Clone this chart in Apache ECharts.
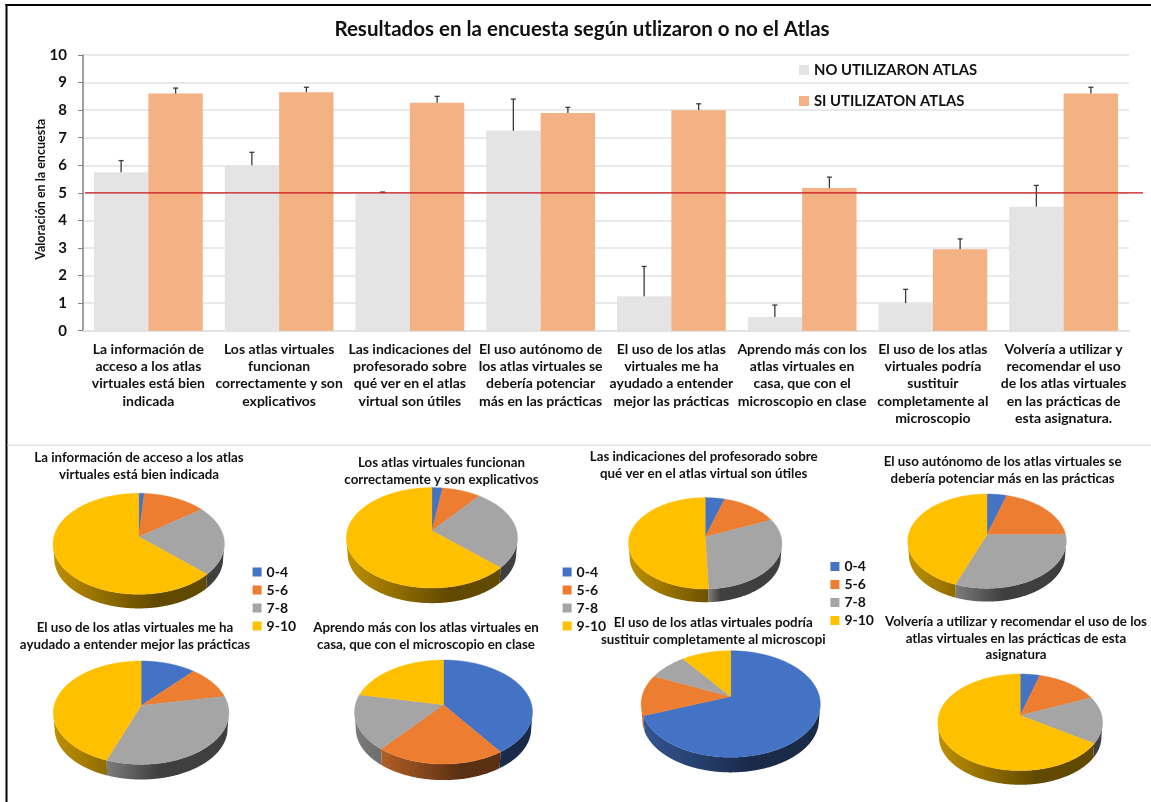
<!DOCTYPE html>
<html><head><meta charset="utf-8">
<style>html,body{margin:0;padding:0;background:#fff}#c{width:1151px;height:802px}</style>
<script src="https://cdn.jsdelivr.net/npm/echarts@6/dist/echarts.min.js"></script>
</head><body><div id="c"></div>
<script>
const categories = [
  'La información de\nacceso a los atlas\nvirtuales está bien\nindicada',
  'Los atlas virtuales\nfuncionan\ncorrectamente y son\nexplicativos',
  'Las indicaciones del\nprofesorado sobre\nqué ver en el atlas\nvirtual son útiles',
  'El uso autónomo de\nlos atlas virtuales se\ndebería potenciar\nmás en las prácticas',
  'El uso de los atlas\nvirtuales me ha\nayudado a entender\nmejor las prácticas',
  'Aprendo más con los\natlas virtuales en\ncasa, que con el\nmicroscopio en clase',
  'El uso de los atlas\nvirtuales podría\nsustituir\ncompletamente al\nmicroscopio',
  'Volvería a utilizar y\nrecomendar el uso\nde los atlas virtuales\nen las prácticas de\nesta asignatura.'
];
const noAtlas = [5.75, 6.0, 5.0, 7.25, 1.25, 0.5, 1.0, 4.5];
const siAtlas = [8.6, 8.65, 8.27, 7.9, 8.0, 5.18, 2.95, 8.6];
const noAtlasErrTop = [6.17, 6.47, 5.03, 8.4, 2.33, 0.93, 1.5, 5.27];
const siAtlasErrTop = [8.8, 8.83, 8.5, 8.1, 8.23, 5.57, 3.33, 8.83];
const referenceLine = [[0, 5]];
const pieRangeNames = ['0-4', '5-6', '7-8', '9-10'];
const pie04 = [1.2, 2.3, 4.7, 4.6, 11.6, 40.3, 69.3, 4.4];
const pie56 = [13.6, 8.3, 13.8, 20.4, 10.5, 20.6, 12.4, 14.1];
const pie78 = [22.2, 26.3, 30.9, 30.7, 33.5, 17.3, 8.1, 15.7];
const pie910 = [63.0, 63.1, 50.6, 44.3, 44.4, 21.8, 10.2, 65.8];

// layout of the eight tilted pies and their headings (not data)
const pieLayout = [
  {cx:138.7, cy:543.8, rx:85.7, ry:50.5, d:15},
  {cx:431.9, cy:537.8, rx:85.6, ry:50.2, d:16},
  {cx:705.2, cy:543.3, rx:76.7, ry:45.7, d:14},
  {cx:987.0, cy:541.2, rx:79.3, ry:47.2, d:14},
  {cx:141.1, cy:712.7, rx:87.8, ry:51.7, d:16},
  {cx:443.5, cy:712.0, rx:89.0, ry:52.0, d:17},
  {cx:730.7, cy:704.0, rx:89.6, ry:53.3, d:16},
  {cx:1020.2,cy:722.3, rx:82.4, ry:48.3, d:15}
];
const pieTitles = [
  {t:'La información de acceso a los atlas\nvirtuales está bien indicada', x:139, y:449.5},
  {t:'Los atlas virtuales funcionan\ncorrectamente y son explicativos', x:441.5, y:454.5},
  {t:'Las indicaciones del profesorado sobre\nqué ver en el atlas virtual son útiles', x:703.7, y:448.5},
  {t:'El uso autónomo de los atlas virtuales se\ndebería potenciar más en las prácticas', x:1002.6, y:453.5},
  {t:'El uso de los atlas virtuales me ha\nayudado a entender mejor las prácticas', x:135, y:619.5},
  {t:'Aprendo más con los atlas virtuales en\ncasa, que con el microscopio en clase', x:426, y:619.5},
  {t:'El uso de los atlas virtuales podría\nsustituir completamente al microscopi', x:713.3, y:614.5},
  {t:'Volvería a utilizar y recomendar el uso de los\natlas virtuales en las prácticas de esta\nasignatura', x:1016, y:613.5}
];
const FONT = 'Lato, "Open Sans", sans-serif';
const INK = '#111';
const PERSP = 0.14;
const pieColors = ['#4472c4', '#ed7d31', '#a5a5a5', '#ffc000'];
const pieArrays = [pie04, pie56, pie78, pie910];

function shade(hex, f) {
  const n = parseInt(hex.slice(1), 16);
  const c = s => Math.round(((n >> s) & 255) * f);
  return 'rgb(' + c(16) + ',' + c(8) + ',' + c(0) + ')';
}
function rimPoint(L, deg) {
  const t = deg * Math.PI / 180, u = Math.sin(t), v = -Math.cos(t), w = 1 - PERSP * v;
  const a = L.rx * Math.sqrt(1 - PERSP * PERSP), b = L.ry * (1 - PERSP * PERSP);
  return [L.cx + a * u / w, L.cy - PERSP * L.ry + b * v / w];
}
function pieRenderer(rangeIndex) {
  return function (params) {
    const i = params.dataIndex, L = pieLayout[i];
    let total = 0, before = 0;
    pieArrays.forEach((arr, k) => { total += arr[i]; if (k < rangeIndex) before += arr[i]; });
    const start = before / total * 360, end = (before + pieArrays[rangeIndex][i]) / total * 360;
    const rim = [];
    for (let d = start; d < end; d += 0.5) rim.push(rimPoint(L, d));
    rim.push(rimPoint(L, end));
    const color = pieColors[rangeIndex];
    const children = [];
    const lower = rim.filter(p => p[1] >= L.cy);
    if (lower.length > 1) {
      const apexY = L.cy - PERSP * L.ry, k = 0.985;
      const bottom = lower.map(p => [L.cx + (p[0] - L.cx) * k, apexY + (p[1] - apexY) * k + L.d]).reverse();
      const x0 = Math.min.apply(null, lower.map(p => p[0]));
      const x1 = L.cx + 0.2 * L.rx;
      const fill = x0 >= x1 - 1 ? shade(color, 0.38) : new echarts.graphic.LinearGradient(x0, 0, x1, 0, [
        {offset: 0, color: shade(color, 0.75)}, {offset: 1, color: shade(color, 0.38)}], true);
      children.push({type: 'polygon', shape: {points: lower.concat(bottom)}, style: {fill: fill}});
    }
    children.push({type: 'polygon', shape: {points: [[L.cx, L.cy - PERSP * L.ry]].concat(rim)},
      style: {fill: color, stroke: color, lineWidth: 0.4}});
    return {type: 'group', children: children};
  };
}
function errRenderer(sign, tops, bases) {
  return function (params, api) {
    const i = params.dataIndex;
    const bw = api.size([1, 0])[0] * 0.2085;
    const base = api.coord([i, bases[i]]), top = api.coord([i, tops[i]]);
    const x = base[0] + sign * bw;
    const st = {stroke: '#3a3a3a', lineWidth: 1.3, fill: null};
    return {type: 'group', children: [
      {type: 'line', shape: {x1: x, y1: base[1], x2: x, y2: top[1]}, style: st},
      {type: 'line', shape: {x1: x - 2.5, y1: top[1], x2: x + 2.5, y2: top[1]}, style: st}
    ]};
  };
}
const titles = [{
  text: 'Resultados en la encuesta según utlizaron o no el Atlas', left: 582, top: 19, textAlign: 'center', padding: 0,
  textStyle: {fontFamily: FONT, fontWeight: 'bold', fontSize: 20.5, color: INK}
}].concat(pieTitles.map(p => ({
  text: p.t, left: p.x, top: p.y, textAlign: 'center', padding: 0,
  textStyle: {fontFamily: FONT, fontWeight: 'bold', fontSize: 13.3, lineHeight: 16.5, color: INK}
})));
function pieLegend(left, top) {
  return {data: pieRangeNames, left: left, top: top, orient: 'vertical', itemWidth: 9, itemHeight: 9, itemGap: 4,
    icon: 'rect', selectedMode: false, padding: 0,
    textStyle: {fontFamily: FONT, fontWeight: 'bold', fontSize: 14, color: INK}};
}
const option = {
  animation: false,
  backgroundColor: '#fff',
  title: titles,
  legend: [
    {data: ['NO UTILIZARON ATLAS', 'SI UTILIZATON ATLAS'], left: 799, top: 62.5, orient: 'vertical', itemWidth: 10, itemHeight: 10,
      itemGap: 16, icon: 'rect', selectedMode: false, padding: 0,
      textStyle: {fontFamily: FONT, fontWeight: 'bold', fontSize: 14.8, color: INK}},
    pieLegend(252.6, 565), pieLegend(562.6, 565), pieLegend(830.4, 559.5)
  ],
  grid: {left: 83, top: 55, width: 1046, height: 275.7, containLabel: false},
  xAxis: {type: 'category', data: categories,
    axisLine: {lineStyle: {color: '#e2e2e2', width: 2}}, axisTick: {show: false},
    axisLabel: {interval: 0, margin: 10, fontFamily: FONT, fontWeight: 'bold', fontSize: 14, lineHeight: 17.3, color: INK, align: 'center'}},
  yAxis: {type: 'value', min: 0, max: 10, interval: 1,
    name: 'Valoración en la encuesta', nameLocation: 'middle', nameGap: 36, nameMoveOverlap: false,
    nameTextStyle: {fontFamily: FONT, fontWeight: 'bold', fontSize: 12.5, color: INK, padding: [0, 0, 0, 7]},
    axisLine: {show: true, lineStyle: {color: '#808080', width: 1.5}},
    axisTick: {show: true, length: 5, lineStyle: {color: '#808080'}},
    axisLabel: {margin: 16, fontFamily: FONT, fontWeight: 'bold', fontSize: 15, color: INK},
    splitLine: {show: true, lineStyle: {color: '#e2e2e2', width: 1.5}}},
  series: [
    {name: 'NO UTILIZARON ATLAS', type: 'bar', data: noAtlas, barWidth: 54.4, barGap: 0, itemStyle: {color: '#e4e4e4'}},
    {name: 'SI UTILIZATON ATLAS', type: 'bar', data: siAtlas, barWidth: 54.4, barGap: 0, itemStyle: {color: '#f4b183'}},
    {name: 'errNo', type: 'custom', data: noAtlasErrTop.map((v, i) => [i, v]), renderItem: errRenderer(-1, noAtlasErrTop, noAtlas), z: 5, silent: true},
    {name: 'errSi', type: 'custom', data: siAtlasErrTop.map((v, i) => [i, v]), renderItem: errRenderer(1, siAtlasErrTop, siAtlas), z: 5, silent: true},
    {name: 'ref', type: 'custom', data: referenceLine, z: 6, silent: true, clip: false,
      renderItem: function (params, api) {
        const y = api.coord([0, api.value(1)])[1], g = params.coordSys;
        return {type: 'line', shape: {x1: g.x + 2, y1: y, x2: g.x + g.width + 14, y2: y}, style: {stroke: '#c8141b', lineWidth: 1.3}};
      }}
  ].concat(pieRangeNames.map((name, k) => ({
    name: name, type: 'custom', coordinateSystem: 'none', data: pieArrays[k], silent: true, z: 3,
    itemStyle: {color: pieColors[k]}, renderItem: pieRenderer(k)
  }))),
  graphic: [
    {type: 'rect', shape: {x: 5.5, y: 4, width: 2, height: 798}, style: {fill: '#000'}, z: 50},
    {type: 'rect', shape: {x: 5.5, y: 4, width: 1146, height: 2}, style: {fill: '#000'}, z: 50},
    {type: 'rect', shape: {x: 7.5, y: 444.5, width: 1144, height: 1.5}, style: {fill: '#e6e6e6'}, z: 50}
  ]
};
const chart = echarts.init(document.getElementById('c'), null, {renderer: 'canvas'});
chart.setOption(option);
</script></body></html>
